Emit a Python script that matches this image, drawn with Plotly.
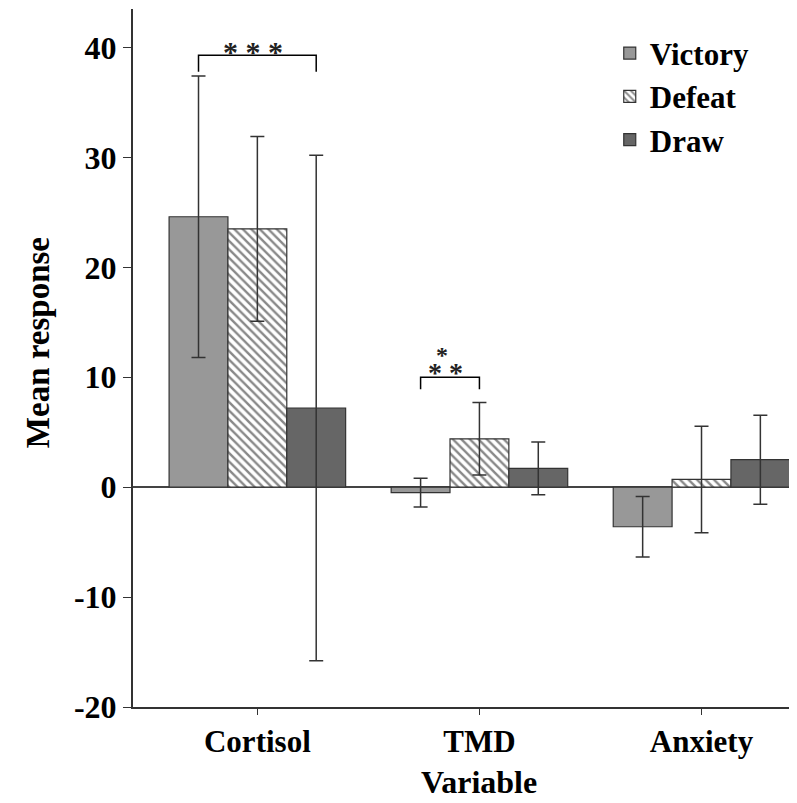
import plotly.graph_objects as go

# values
variables = ["Cortisol", "TMD", "Anxiety"]
groups = ["Victory", "Defeat", "Draw"]
means = {
    "Victory": [24.6, -0.5, -3.6],
    "Defeat": [23.5, 4.4, 0.7],
    "Draw": [7.2, 1.7, 2.5],
}
errors = {
    "Victory": [12.8, 1.3, 2.75],
    "Defeat": [8.4, 3.3, 4.85],
    "Draw": [23.0, 2.4, 4.05],
}
y_ticks = [-20, -10, 0, 10, 20, 30, 40]
y_labels = ["-20", "-10", "0", "10", "20", "30", "40"]

FONT = "Liberation Serif"

styles = {
    "Victory": dict(color="#989898", pattern=dict(shape="")),
    "Defeat": dict(
        color="white",
        pattern=dict(shape="\\", fgcolor="#111111", bgcolor="white", size=6, solidity=0.4),
    ),
    "Draw": dict(color="#666666", pattern=dict(shape="")),
}

fig = go.Figure()
for g in groups:
    fig.add_trace(
        go.Bar(
            x=variables,
            y=means[g],
            name=g,
            marker=dict(
                color=styles[g]["color"],
                pattern=styles[g]["pattern"],
                line=dict(color="#333333", width=1.2),
            ),
            error_y=dict(
                type="data",
                array=errors[g],
                color="#333333",
                thickness=1.5,
                width=7,
            ),
        )
    )

# significance brackets (category offsets in data units)
OFF = 0.265


def bracket(x0, x1, top, leg):
    fig.add_shape(
        type="path",
        xref="x",
        yref="y",
        path=f"M {x0},{leg} L {x0},{top} L {x1},{top} L {x1},{leg}",
        line=dict(color="black", width=1.5),
    )


def stars(x, y, text, size):
    fig.add_annotation(
        x=x, y=y, xref="x", yref="y", text=text, showarrow=False,
        yanchor="middle",
        font=dict(family=FONT, size=size, color="#222222", weight="bold"),
    )


bracket(0 - OFF, 0 + OFF, 39.3, 37.8)
stars(-0.02, 39.6, "* * *", 30)
bracket(1 - OFF, 1, 10.0, 8.9)
stars(1 - OFF / 2 - 0.02, 10.4, "* *", 28)
stars(1 - OFF / 2 - 0.035, 12.0, "*", 24)

# axis titles as annotations so they can sit where the original has them
fig.add_annotation(
    x=1, y=-0.107, xref="x", yref="paper", text="Variable", showarrow=False,
    yanchor="middle", font=dict(family=FONT, size=32, weight="bold"),
)
fig.add_annotation(
    x=0, y=13.1, xref="paper", yref="y", xshift=-95, text="Mean response",
    showarrow=False, textangle=-90, xanchor="center", yanchor="middle",
    font=dict(family=FONT, size=33, weight="bold"),
)

fig.update_layout(
    width=797,
    height=803,
    margin=dict(l=125, r=8, t=1, b=104),
    paper_bgcolor="white",
    plot_bgcolor="white",
    barmode="group",
    bargap=0.205,
    bargroupgap=0,
    font=dict(family=FONT, size=22, color="black"),
    legend=dict(
        x=0.718,
        y=0.975,
        xanchor="left",
        yanchor="top",
        font=dict(family=FONT, size=31, color="black", weight="bold"),
        bgcolor="rgba(0,0,0,0)",
        itemwidth=30,
    ),
    showlegend=True,
)

fig.update_xaxes(
    range=[-0.56, 2.43],
    showline=True,
    linecolor="#333333",
    linewidth=2,
    ticks="outside",
    ticklen=6,
    tickcolor="#333333",
    tickfont=dict(family=FONT, size=31, weight="bold"),
    showgrid=False,
    zeroline=False,
)
fig.update_yaxes(
    range=[-20, 43.5],
    tickvals=y_ticks,
    ticktext=y_labels,
    showline=True,
    linecolor="#333333",
    linewidth=2,
    ticks="outside",
    ticklen=8,
    tickcolor="#333333",
    tickfont=dict(family=FONT, size=32, weight="bold"),
    showgrid=False,
    zeroline=True,
    zerolinecolor="#444444",
    zerolinewidth=1.5,
)

fig.write_html("out.html")
